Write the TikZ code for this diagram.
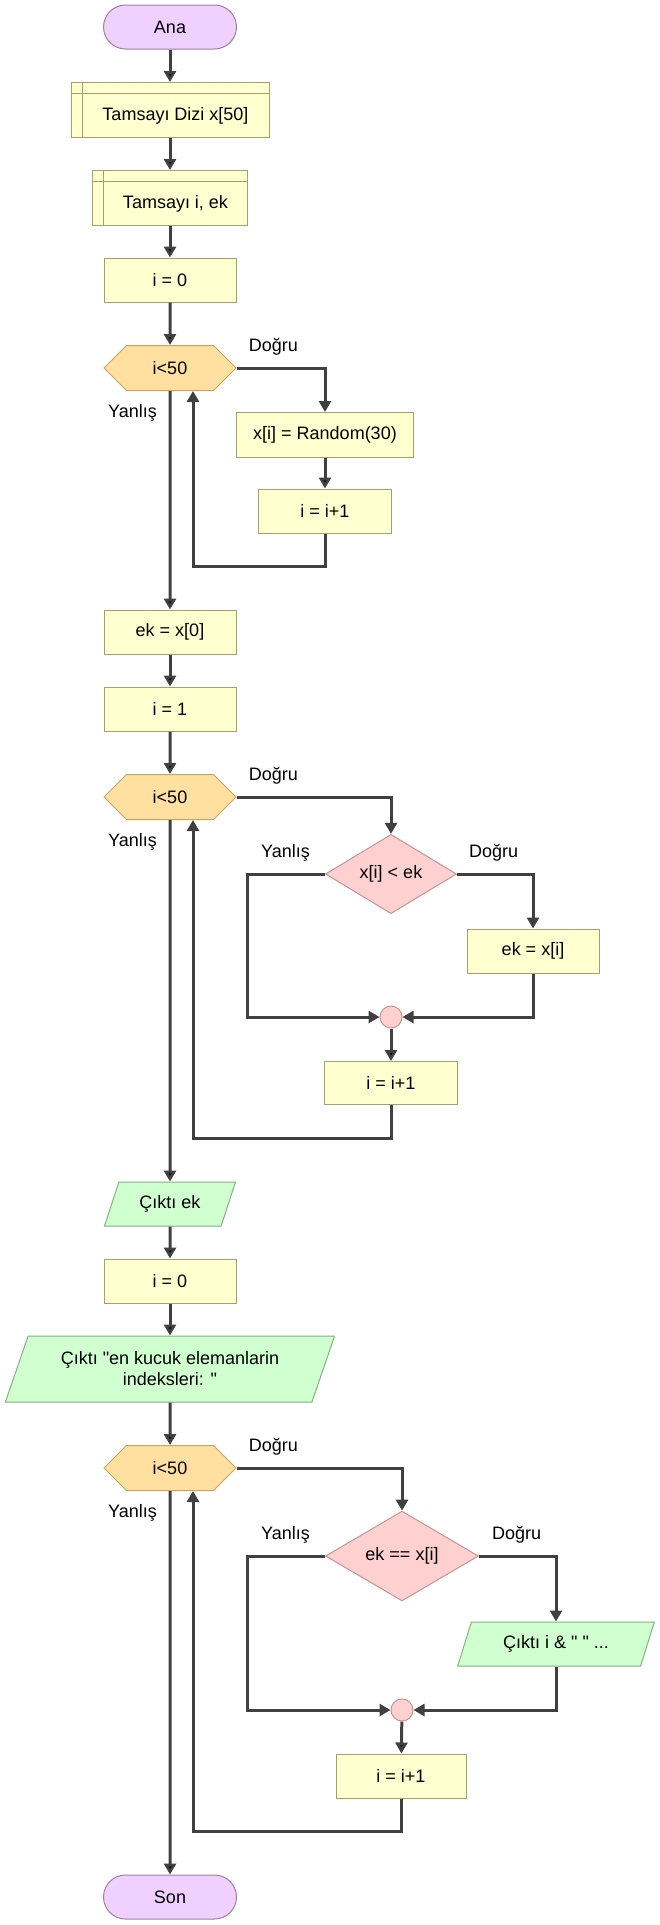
\documentclass[tikz,border=0pt]{standalone}
\usepackage{fontspec}
\setmainfont{Liberation Sans}[Ligatures=TeXOff]
\usepackage{tikz}
\usetikzlibrary{shapes.geometric, shapes.symbols, positioning, arrows.meta}

\definecolor{flowline}{HTML}{404040}
\definecolor{termfill}{HTML}{EFD0FF}
\definecolor{termdraw}{HTML}{9E80A2}
\definecolor{procfill}{HTML}{FFFFD0}
\definecolor{procdraw}{HTML}{A4A070}
\definecolor{loopfill}{HTML}{FFE0A0}
\definecolor{loopdraw}{HTML}{C8A45C}
\definecolor{decfill}{HTML}{FFD0D0}
\definecolor{decdraw}{HTML}{C49494}
\definecolor{iofill}{HTML}{D0FFD0}
\definecolor{iodraw}{HTML}{80B480}

\begin{document}
\begin{tikzpicture}[x=1pt, y=-1pt, >={Triangle[length=11pt,width=12pt]},
    font=\fontsize{18}{21}\selectfont,
    shp/.style={inner sep=0pt, line width=1pt},
    term/.style={shp, rectangle, rounded corners=22pt, fill=termfill, draw=termdraw, minimum width=133pt, minimum height=44pt},
    proc/.style={shp, rectangle, fill=procfill, draw=procdraw, minimum width=132pt, minimum height=44pt},
    decl/.style={proc, minimum height=55pt, text height=21pt, text depth=0pt,
      path picture={\draw[procdraw, line width=1pt]
        ([xshift=11pt]path picture bounding box.north west) -- ([xshift=11pt]path picture bounding box.south west)
        ([yshift=-11pt]path picture bounding box.north west) -- ([yshift=-11pt]path picture bounding box.north east);}},
    loopbox/.style={shp, signal, signal to=west and east, signal pointer angle=90, fill=loopfill, draw=loopdraw, minimum width=132pt, minimum height=45pt},
    dec/.style={shp, diamond, fill=decfill, draw=decdraw},
    io/.style={shp, trapezium, trapezium left angle=63, trapezium right angle=117, trapezium stretches=true, fill=iofill, draw=iodraw, minimum height=44pt},
    merge/.style={shp, circle, fill=decfill, draw=decdraw, minimum size=22pt},
    lbl/.style={inner sep=0pt},
    flow/.style={->, draw=flowline, line width=3pt}
  ]
  \useasboundingbox (0,0) rectangle (660,1925);

  \node[term] (ana) at (170,27) {Ana};
  \node[decl, minimum width=198pt] (dizi) at (170,110) {\hspace*{11pt}Tamsayı Dizi x[50]};
  \node[decl, minimum width=155pt] (degisken) at (170,198) {\hspace*{11pt}Tamsayı i, ek};
  \node[proc] (sifir1) at (170,280) {i = 0};
  \node[loopbox] (dongu1) at (170,368) {i<50};
  \node[proc, minimum width=177pt, minimum height=45pt] (rastgele) at (325,435) {x[i] = Random(30)};
  \node[proc, minimum width=133pt] (artir1) at (325,511) {i = i+1};
  \node[proc] (ekata) at (170,632) {ek = x[0]};
  \node[proc] (bir) at (170,709) {i = 1};
  \node[loopbox] (dongu2) at (170,797) {i<50};
  \node[dec, minimum width=131pt, minimum height=65pt] (kosul1) at (391,874) {x[i] < ek};
  \node[proc] (ekguncelle) at (533,951) {ek = x[i]};
  \node[merge] (birles1) at (391,1017) {};
  \node[proc, minimum width=133pt, minimum height=43pt] (artir2) at (391,1083) {i = i+1};
  \node[io, minimum width=132pt] (ciktiek) at (170,1204) {Çıktı ek};
  \node[proc] (sifir2) at (170,1281) {i = 0};
  \node[io, minimum width=330pt, minimum height=66pt, align=center] (baslik) at (170,1369) {Çıktı "en kucuk elemanlarin\\indeksleri: "};
  \node[loopbox] (dongu3) at (170,1468) {i<50};
  \node[dec, minimum width=153pt, minimum height=88pt] (kosul2) at (402,1556) {ek == x[i]};
  \node[io, minimum width=197pt] (ciktii) at (556,1644) {Çıktı i \& " " ...};
  \node[merge] (birles2) at (402,1710) {};
  \node[proc, minimum width=130pt] (artir3) at (401,1776) {i = i+1};
  \node[term] (son) at (170,1897) {Son};

  \node[lbl, above right=13pt and 12pt of dongu1.east] {Doğru};
  \node[lbl, below left=13pt and 13pt of dongu1.south] {Yanlış};
  \node[lbl, above right=13pt and 12pt of dongu2.east] {Doğru};
  \node[lbl, below left=13pt and 13pt of dongu2.south] {Yanlış};
  \node[lbl, above left=12.5pt and 15pt of kosul1.west] {Yanlış};
  \node[lbl, above right=12.5pt and 12pt of kosul1.east] {Doğru};
  \node[lbl, above right=13pt and 12pt of dongu3.east] {Doğru};
  \node[lbl, below left=13pt and 13pt of dongu3.south] {Yanlış};
  \node[lbl, above left=12.5pt and 15pt of kosul2.west] {Yanlış};
  \node[lbl, above right=12.5pt and 13pt of kosul2.east] {Doğru};

  \coordinate (geri1) at (193,566);
  \coordinate (geri2) at (193,1138);
  \coordinate (geri3) at (193,1831);
  \coordinate (sol1) at (247,1017);
  \coordinate (sol2) at (247,1710);

  \path[flow] (ana) edge (dizi)
        (dizi) edge (degisken)
        (degisken) edge (sifir1)
        (sifir1) edge (dongu1)
        (rastgele) edge (artir1)
        (dongu1) edge (ekata)
        (ekata) edge (bir)
        (bir) edge (dongu2)
        (birles1) edge (artir2)
        (dongu2) edge (ciktiek)
        (ciktiek) edge (sifir2)
        (sifir2) edge (baslik)
        (baslik) edge (dongu3)
        (birles2) edge (artir3)
        (dongu3) edge (son);

  \draw[flow] (dongu1.east) -| (rastgele.north);
  \draw[flow] (artir1.south) |- (geri1) -- (dongu1.south -| geri1);
  \draw[flow] (dongu2.east) -| (kosul1.north);
  \draw[flow] (kosul1.east) -| (ekguncelle.north);
  \draw[flow] (kosul1.west) -| (sol1) -- (birles1.west);
  \draw[flow] (ekguncelle.south) |- (birles1.east);
  \draw[flow] (artir2.south) |- (geri2) -- (dongu2.south -| geri2);
  \draw[flow] (dongu3.east) -| (kosul2.north);
  \draw[flow] (kosul2.east) -| (ciktii.north);
  \draw[flow] (kosul2.west) -| (sol2) -- (birles2.west);
  \draw[flow] (ciktii.south) |- (birles2.east);
  \draw[flow] (artir3.south) |- (geri3) -- (dongu3.south -| geri3);
\end{tikzpicture}
\end{document}
